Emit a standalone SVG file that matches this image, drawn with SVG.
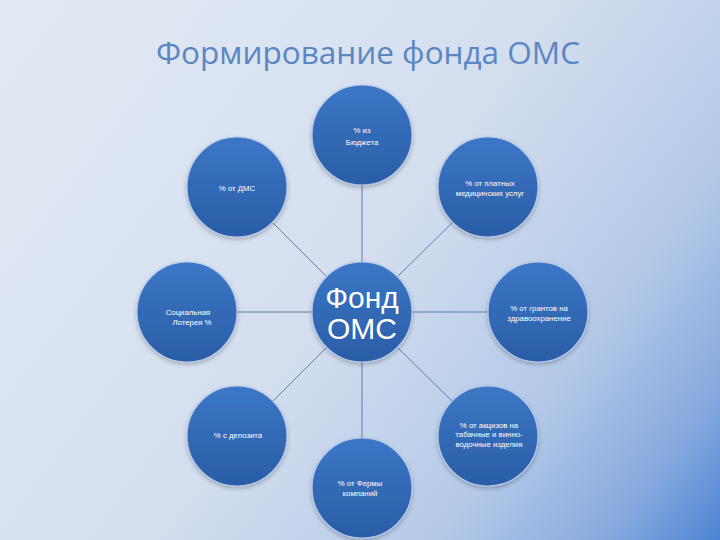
<svg xmlns="http://www.w3.org/2000/svg" width="720" height="540" viewBox="0 0 720 540">
<defs>
<linearGradient id="bg" x1="0" y1="0" x2="720" y2="540" gradientUnits="userSpaceOnUse">
<stop offset="0" stop-color="#e4eaf4"/>
<stop offset="0.5" stop-color="#d3deef"/>
<stop offset="0.75" stop-color="#b4c9e8"/>
<stop offset="0.9" stop-color="#86a9de"/>
<stop offset="1" stop-color="#4d84d2"/>
</linearGradient>
<linearGradient id="ball" x1="0" y1="0" x2="0" y2="1">
<stop offset="0" stop-color="#3b77c6"/>
<stop offset="1" stop-color="#2a5da6"/>
</linearGradient>
<filter id="sh" x="-20%" y="-20%" width="140%" height="140%">
<feGaussianBlur in="SourceAlpha" stdDeviation="2"/>
<feOffset dx="0" dy="2" result="b"/>
<feComponentTransfer><feFuncA type="linear" slope="0.25"/></feComponentTransfer>
<feMerge><feMergeNode/><feMergeNode in="SourceGraphic"/></feMerge>
</filter>
</defs>
<style>
.c{fill:url(#ball);stroke:#b3c8e6;stroke-width:1.2;filter:url(#sh)}
.t{font-family:"Liberation Sans",Arial,sans-serif;font-size:7.8px;fill:#ffffff;text-anchor:middle}
.big{font-family:"Liberation Sans",Arial,sans-serif;font-size:30px;fill:#ffffff;text-anchor:middle}
.title{font-family:"Open Sans","Liberation Sans",sans-serif;font-size:31.5px;fill:#5a87c2;text-anchor:middle}
.ln{stroke:#5f7ea8;stroke-width:1}
</style>
<rect width="720" height="540" fill="url(#bg)"/>
<text class="title" x="368" y="64">Формирование фонда ОМС</text>
<g id="connectors">
<line class="ln" x1="362" y1="262" x2="362" y2="185"/>
<line class="ln" x1="362" y1="362" x2="362" y2="438"/>
<line class="ln" x1="312" y1="312" x2="237" y2="312"/>
<line class="ln" x1="412" y1="312" x2="488" y2="312"/>
<line class="ln" x1="326.6" y1="276.6" x2="272.4" y2="222.4"/>
<line class="ln" x1="397.4" y1="276.6" x2="452.6" y2="222.4"/>
<line class="ln" x1="326.6" y1="347.4" x2="272.4" y2="401.6"/>
<line class="ln" x1="397.4" y1="347.4" x2="452.6" y2="401.6"/>
</g>
<g id="center">
<circle class="c" cx="362" cy="312" r="50"/>
<text class="big" x="362" y="308">Фонд</text>
<text class="big" x="362" y="339">ОМС</text>
</g>
<g id="n-top">
<circle class="c" cx="362" cy="135" r="50"/>
<text class="t" x="362" y="133">% из</text>
<text class="t" x="362" y="145">Бюджета</text>
</g>
<g id="n-topleft">
<circle class="c" cx="237" cy="187" r="50"/>
<text class="t" x="237" y="191">% от ДМС</text>
</g>
<g id="n-topright">
<circle class="c" cx="488" cy="187" r="50"/>
<text class="t" x="490" y="186">% от платных</text>
<text class="t" x="490" y="196">медицинских услуг</text>
</g>
<g id="n-left">
<circle class="c" cx="187" cy="312" r="50"/>
<text class="t" x="188" y="315">Социальная</text>
<text class="t" x="192" y="325">Лотерея %</text>
</g>
<g id="n-right">
<circle class="c" cx="538" cy="312" r="50"/>
<text class="t" x="539" y="311">% от грантов на</text>
<text class="t" x="539" y="321">здравоохранение</text>
</g>
<g id="n-bottomleft">
<circle class="c" cx="237" cy="436" r="50"/>
<text class="t" x="238" y="438">% с депозита</text>
</g>
<g id="n-bottomright">
<circle class="c" cx="488" cy="436" r="50"/>
<text class="t" x="489" y="428">% от акцизов на</text>
<text class="t" x="489" y="437">табачные и винно-</text>
<text class="t" x="489" y="447">водочные изделия</text>
</g>
<g id="n-bottom">
<circle class="c" cx="362" cy="488" r="50"/>
<text class="t" x="360" y="486">% от Фермы</text>
<text class="t" x="360" y="496">компаний</text>
</g>
</svg>
